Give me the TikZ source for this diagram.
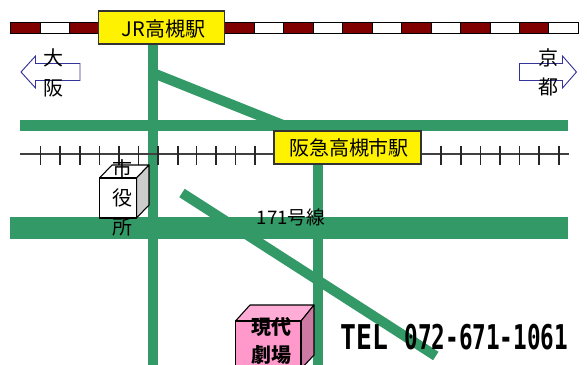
\documentclass[tikz,border=0pt]{standalone}
\usepackage{fontspec}
\setmainfont{Noto Sans CJK JP}
\newfontfamily\telfont{DejaVu Sans Mono}[Scale=1]
\definecolor{road}{HTML}{339966}
\definecolor{rail}{HTML}{800000}
\definecolor{pinkfront}{HTML}{FF99CC}
\definecolor{pinktop}{HTML}{FFADD6}
\definecolor{pinkside}{HTML}{CC7AA3}
\definecolor{arrowblue}{HTML}{333399}
\tikzset{
  roadline/.style={draw=none,fill=road},
  roaddiag/.style={draw=road,line width=7.5pt},
  station/.style={draw=black!80,line width=0.9pt,fill=yellow,inner sep=0pt,anchor=center},
  labeltext/.style={inner sep=0pt,font=\fontsize{15pt}{15pt}\selectfont},
  boldtext/.style={inner sep=0pt,font=\fontsize{15pt}{15pt}\selectfont\bfseries},
  dirarrow/.style={draw=arrowblue,line width=0.7pt,fill=white},
  darkseg/.style={fill=rail,draw=black,line width=0.7pt},
  whiteseg/.style={fill=white,draw=black,line width=0.7pt},
  tick/.style={draw=black!85,line width=0.9pt},
  box/.style={draw=black,line width=0.8pt,line join=round},
}
\begin{document}
\begin{tikzpicture}[x=0.75pt,y=-0.75pt]
\useasboundingbox (0,0) rectangle (587,365);
% rail top
\foreach \s in {10.5,69.5}{
  \path[darkseg] (\s,22.5) rectangle ++(29.5,11);
  \path[whiteseg] (\s+29.5,22.5) rectangle ++(29.5,11);
}
\foreach \s in {224.5,283.5,342.5,401.5,460.5,519}{
  \path[darkseg] (\s,22.5) rectangle ++(29.5,11);
  \path[whiteseg] (\s+29.5,22.5) rectangle ++(29.5,11);
}
% roads
\coordinate (d1a) at (153,73);
\coordinate (d1b) at (285,125.8);
\coordinate (d2a) at (182,193);
\coordinate (d2b) at (435.8,356);
\draw[roaddiag] (d1a) -- (d1b);
\draw[roaddiag] (d2a) -- (d2b);
\fill[roadline] (148,40) rectangle (158,365);
\fill[roadline] (313,160) rectangle (323,365);
\fill[roadline] (20,120) rectangle (568,131);
\fill[roadline] (10,217) rectangle (568,239);
% hankyu rail
\coordinate (h1) at (20,154);
\coordinate (h2) at (569,154);
\draw[draw=black!75,line width=1.1pt] (h1) -- (h2);
\foreach \x in {40.5,60,80,99.5,119,138.5,158,178,196.5,216,235.5,255,441,461,480.5,500,519.5,539,559}{
  \draw[tick] (\x,146) -- (\x,165);
}
% stations
\node[station,minimum width=94.5pt,minimum height=24.75pt] (jr) at (161.75,27.5) {};
\node[labeltext] (jrt) at (163.5,29) {JR高槻駅};
\node[station,minimum width=110.25pt,minimum height=24.75pt] (hk) at (347.5,147.5) {};
\node[labeltext] (hkt) at (349,148) {阪急高槻市駅};
% direction arrows
\path[dirarrow] (21,72) -- (35.5,56) -- (35.5,63.5) -- (80,63.5) -- (80,80.5) -- (35.5,80.5) -- (35.5,88) -- cycle;
\path[dirarrow] (576.5,72) -- (562.5,56) -- (562.5,63.5) -- (519.5,63.5) -- (519.5,80.5) -- (562.5,80.5) -- (562.5,88) -- cycle;
\node[labeltext] (o1) at (53,58) {大};
\node[labeltext] (o2) at (53,88) {阪};
\node[labeltext] (k1) at (548,58) {京};
\node[labeltext] (k2) at (548,87) {都};
% city hall
\path[box,fill=white] (99.5,178) -- (112,165) -- (149,165) -- (136.5,178) -- cycle;
\path[box,fill=black!20] (136.5,178) -- (149,165) -- (149,205) -- (136.5,218) -- cycle;
\path[box,fill=white] (99.5,178) rectangle (136.5,218);
\node[labeltext] (c1) at (123,169) {市};
\node[labeltext] (c2) at (123,198) {役};
\node[labeltext] (c3) at (123,227) {所};
\node[inner sep=0pt,font=\fontsize{14pt}{14pt}\selectfont] (r171) at (291,217) {171号線};
% theatre
\path[box,fill=pinktop] (235.5,321) -- (250,305) -- (314,305) -- (301,321) -- cycle;
\path[box,fill=pinkside] (301,321) -- (314,305) -- (314,355) -- (301,369) -- cycle;
\path[box,fill=pinkfront] (235.5,321) rectangle (301,370);
\node[boldtext] (t1) at (271,327) {現代};
\node[boldtext] (t2) at (271,355) {劇場};
% tel
\node[inner sep=0pt,font=\fontsize{16.5pt}{16.5pt}\telfont\bfseries] (tel) at (454.5,337) {\scalebox{1.2}[1.55]{TEL}\hspace{12pt}\scalebox{1.03}[1.55]{072-671-1061}};
\end{tikzpicture}
\end{document}
